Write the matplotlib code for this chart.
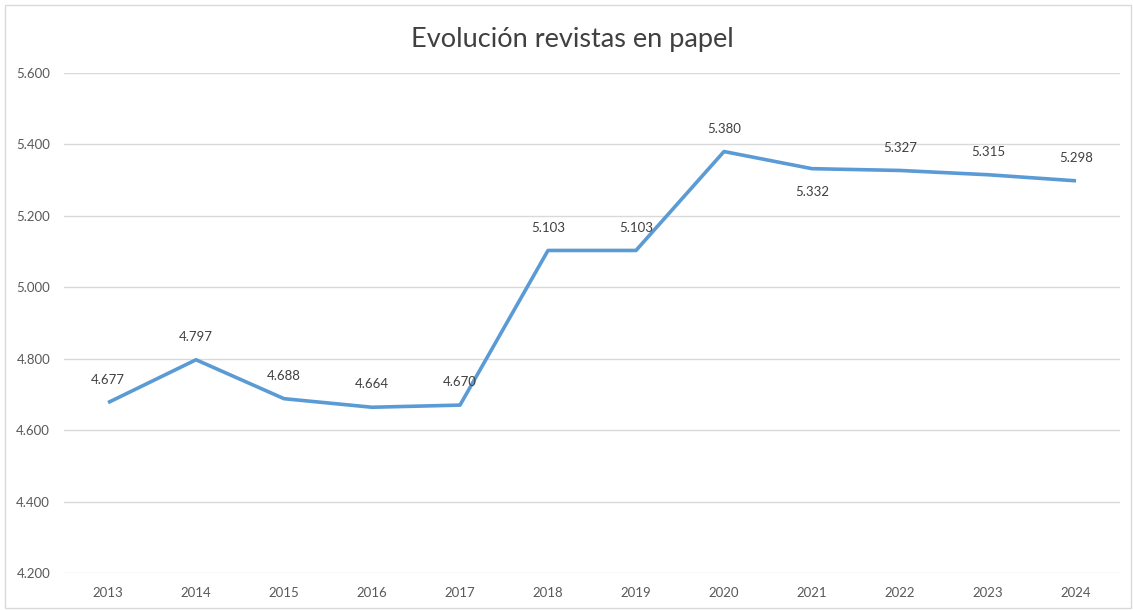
import matplotlib
matplotlib.use("Agg")
import matplotlib.pyplot as plt
from matplotlib.patches import Rectangle

years = ["2013", "2014", "2015", "2016", "2017", "2018", "2019", "2020", "2021", "2022", "2023", "2024"]
values = [4677, 4797, 4688, 4664, 4670, 5103, 5103, 5380, 5332, 5327, 5315, 5298]
# label placed below the point for these years
below = ["2021"]
y_ticks = [4200, 4400, 4600, 4800, 5000, 5200, 5400, 5600]


def fmt(v):
    return "{:,}".format(v).replace(",", ".")


plt.rcParams['font.family'] = ['Lato', 'DejaVu Sans']

fig = plt.figure(figsize=(11.33, 6.10), dpi=100)
fig.patches.append(Rectangle((5 / 1133, 2 / 610), 1126 / 1133, 603 / 610,
                             transform=fig.transFigure, fill=False,
                             edgecolor="#d9d9d9", linewidth=1))

ax = fig.add_axes([0.0565, 0.0607, 0.932, 0.8197])
x = list(range(len(years)))
ax.plot(x, values, color="#5b9bd5", linewidth=2.6, solid_capstyle="butt", zorder=3)

for i, (yr, v) in enumerate(zip(years, values)):
    off = -16.5 if yr in below else 16.5
    ax.annotate(fmt(v), (i, v), xytext=(0, off), textcoords="offset points",
                ha="center", va="center", fontsize=9.5, color="#404040")

ax.set_xlim(-0.5, len(years) - 0.5)
ax.set_ylim(y_ticks[0], y_ticks[-1])
ax.set_yticks(y_ticks)
ax.set_yticklabels([fmt(t) for t in y_ticks])
ax.set_xticks(x)
ax.set_xticklabels(years)
ax.tick_params(axis="both", length=0, labelsize=9.5, labelcolor="#595959")
ax.tick_params(axis="y", pad=10)
ax.tick_params(axis="x", pad=10)
ax.grid(axis="y", color="#d9d9d9", linewidth=1)
ax.set_axisbelow(True)
for s in ax.spines.values():
    s.set_visible(False)

fig.text(0.505, 0.935, "Evolución revistas en papel", ha="center", va="center",
         fontsize=19.5, color="#404040")

fig.savefig("out.png", dpi=100)
